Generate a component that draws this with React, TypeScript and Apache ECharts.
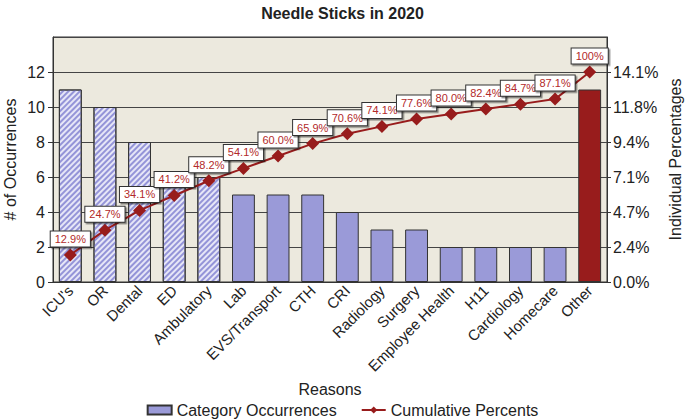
import React, { useEffect, useRef } from "react";
import * as echarts from "echarts";

const categories = [
  "ICU's", "OR", "Dental", "ED", "Ambulatory", "Lab", "EVS/Transport", "CTH", "CRI",
  "Radiology", "Surgery", "Employee Health", "H11", "Cardiology", "Homecare", "Other",
];
const occurrences = [11, 10, 8, 6, 6, 5, 5, 5, 4, 3, 3, 2, 2, 2, 2, 11];
const cumulativePercents = [12.9, 24.7, 34.1, 41.2, 48.2, 54.1, 60.0, 65.9, 70.6, 74.1, 77.6, 80.0, 82.4, 84.7, 87.1, 100];
const hatchedCount = 5;
const totalOccurrences = 85;
const leftMax = 14;
const leftInterval = 2;
const cumulativeTopAt = 12; // 100% aligns with 12 on the left axis

export default function App() {
  const ref = useRef<HTMLDivElement>(null);
  useEffect(() => {
    if (!ref.current) return;
    const chart = echarts.init(ref.current, null, { renderer: "svg" });
    const font = "'Liberation Sans', Arial, sans-serif";
    const barData = occurrences.map((v, i) => {
      if (i === occurrences.length - 1) {
        return { value: v, itemStyle: { color: "#981c1c" } };
      }
      if (i < hatchedCount) {
        return {
          value: v,
          itemStyle: {
            color: "#e6e6f7",
            decal: {
              symbol: "rect",
              symbolSize: 1,
              color: "#9494d8",
              dashArrayX: [1, 0],
              dashArrayY: [1.5, 1.5],
              rotation: -Math.PI / 4,
            },
          },
        };
      }
      return { value: v };
    });
    chart.setOption({
      animation: false,
      textStyle: { fontFamily: font },
      title: {
        text: "Needle Sticks in 2020",
        left: "center",
        top: 0,
        textStyle: { fontSize: 16, fontWeight: "bold", color: "#222", fontFamily: font },
      },
      grid: {
        left: 53,
        right: 78,
        top: 37,
        bottom: 138,
        outerBoundsMode: "none",
        containLabel: false,
        show: true,
        backgroundColor: "#ece9de",
        borderColor: "#333",
        borderWidth: 1,
      },
      legend: {
        bottom: 2,
        left: "center",
        padding: [0, 5],
        itemGap: 24,
        itemWidth: 24,
        itemHeight: 9,
        textStyle: { fontSize: 16, color: "#222", fontFamily: font },
        data: [
          { name: "Category Occurrences", icon: "rect" },
          { name: "Cumulative Percents" },
        ],
      },
      xAxis: {
        type: "category",
        data: categories,
        name: "Reasons",
        nameLocation: "middle",
        nameGap: 99,
        nameTextStyle: { fontSize: 16, color: "#222" },
        axisLine: { lineStyle: { color: "#333" } },
        axisTick: { length: 5, lineStyle: { color: "#333" } },
        axisLabel: { rotate: 45, fontSize: 15, color: "#222", margin: 6, interval: 0 },
      },
      yAxis: [
        {
          type: "value",
          min: 0,
          max: leftMax,
          interval: leftInterval,
          name: "# of Occurrences",
          nameLocation: "middle",
          nameGap: 35,
          nameMoveOverlap: false,
          nameTextStyle: { fontSize: 16, color: "#222" },
          axisLine: { show: true, lineStyle: { color: "#333" } },
          axisTick: { show: true, length: 5, lineStyle: { color: "#333" } },
          axisLabel: { fontSize: 16, color: "#222", margin: 8, showMaxLabel: false },
          splitLine: { lineStyle: { color: "#444", width: 1 } },
        },
        {
          type: "value",
          position: "right",
          min: 0,
          max: (leftMax / totalOccurrences) * 100,
          interval: (leftInterval / totalOccurrences) * 100,
          name: "Individual Percentages",
          nameLocation: "middle",
          nameGap: 60,
          nameMoveOverlap: false,
          nameTextStyle: { fontSize: 16, color: "#222" },
          axisLine: { show: true, lineStyle: { color: "#333" } },
          axisTick: { show: true, length: 4, lineStyle: { color: "#333" } },
          axisLabel: {
            fontSize: 16,
            color: "#222",
            margin: 6,
            showMaxLabel: false,
            formatter: (v: number) => v.toFixed(1) + "%",
          },
          splitLine: { show: false },
        },
        {
          type: "value",
          show: false,
          min: 0,
          max: (100 * leftMax) / cumulativeTopAt,
          splitLine: { show: false },
        },
      ],
      series: [
        {
          name: "Category Occurrences",
          type: "bar",
          yAxisIndex: 0,
          data: barData,
          barCategoryGap: "34%",
          itemStyle: { color: "#9a9ad8", borderColor: "#333", borderWidth: 1 },
        },
        {
          name: "Cumulative Percents",
          type: "line",
          yAxisIndex: 2,
          data: cumulativePercents,
          symbol: "diamond",
          symbolSize: 13,
          lineStyle: { color: "#981c1c", width: 2 },
          itemStyle: { color: "#981c1c" },
          label: {
            show: true,
            position: "top",
            distance: 2,
            formatter: (p: any) => (p.value === 100 ? "100%" : Number(p.value).toFixed(1) + "%"),
            color: "#b22a2a",
            fontSize: 11,
            backgroundColor: "#ffffff",
            borderColor: "#333",
            borderWidth: 1,
            padding: [2, 4],
            shadowColor: "rgba(0,0,0,0.45)",
            shadowOffsetX: 1.5,
            shadowOffsetY: 1.5,
            shadowBlur: 0,
          },
        },
      ],
    });
    return () => chart.dispose();
  }, []);
  return (
    <div
      ref={ref}
      style={{ position: "fixed", left: 0, top: 0, width: 685, height: 420, background: "#fff" }}
    />
  );
}
